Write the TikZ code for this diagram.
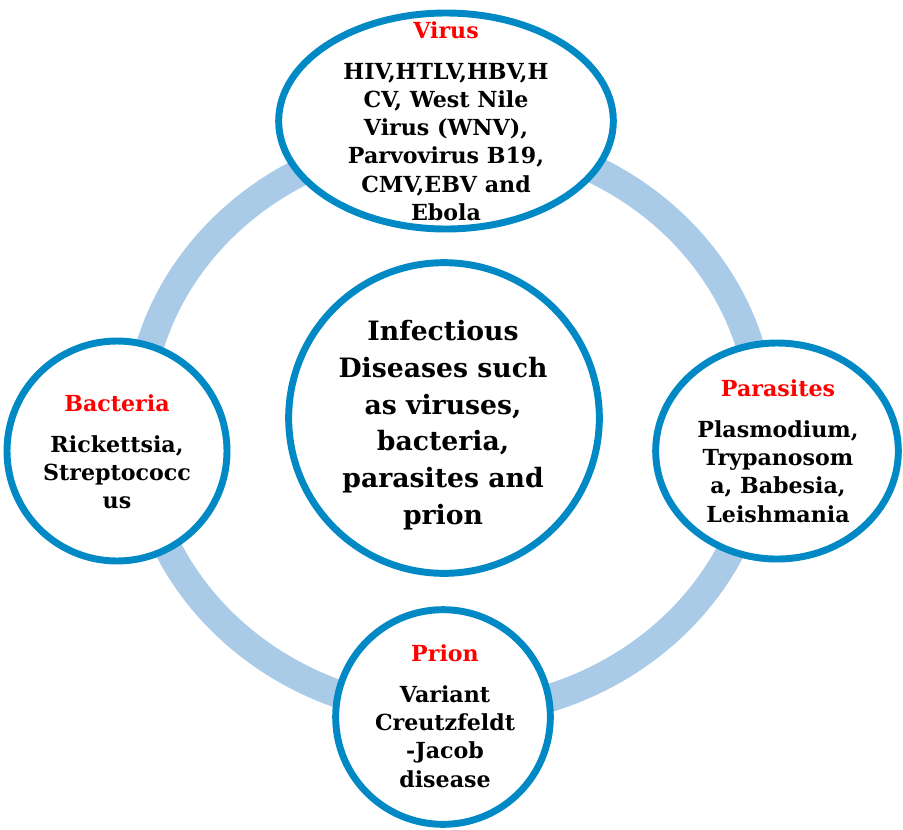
\documentclass[tikz,border=0pt]{standalone}
\usepackage{fontspec}
\setmainfont{DejaVu Serif}
\usetikzlibrary{shapes.geometric}

\definecolor{ringblue}{RGB}{169,203,232}
\definecolor{rimblue}{RGB}{0,137,196}

\tikzset{
  bubble/.style={circle, draw=rimblue, line width=5.2pt, fill=white, inner sep=0pt},
  oval/.style={ellipse, draw=rimblue, line width=5.2pt, fill=white, inner sep=0pt},
  bodytext/.style={align=center, inner sep=0pt, font=\bfseries\fontsize{16.6}{21.2}\selectfont},
  hubtext/.style={align=center, inner sep=0pt, font=\bfseries\fontsize{20}{27.5}\selectfont},
}
\newcommand{\heading}[1]{\textcolor{red}{#1}\\[9.5pt]}

\begin{document}
\begin{tikzpicture}[x=0.75pt,y=0.75pt,yscale=-1,xscale=1]
\useasboundingbox (0,0) rectangle (903,829);

%Shape: Ring
\draw [ringblue, line width=21pt] (450,425) ellipse [x radius=312, y radius=288];

%Shape: Ellipse (virus)
\node [oval, minimum width=251pt, minimum height=162pt] (virus) at (446,121) {};
%Shape: Circle (bacteria)
\node [bubble, minimum size=165pt] (bacteria) at (117,451) {};
%Shape: Ellipse (parasites)
\node [oval, minimum width=182pt, minimum height=162pt] (parasites) at (777,451) {};
%Shape: Circle (prion)
\node [bubble, minimum size=161pt] (prion) at (443,717) {};
%Shape: Circle (hub)
\node [bubble, minimum size=233pt] (hub) at (444,418) {};

% Text Node
\node [bodytext] (virusText) at (446,121) {\heading{Virus}HIV,HTLV,HBV,H\\CV, West Nile\\Virus (WNV),\\Parvovirus B19,\\CMV,EBV and\\Ebola};
% Text Node
\node [bodytext] (bacteriaText) at (117,452) {\heading{Bacteria}Rickettsia,\\Streptococc\\us};
% Text Node
\node [bodytext] (parasitesText) at (778,451) {\heading{Parasites}Plasmodium,\\Trypanosom\\a, Babesia,\\Leishmania};
% Text Node
\node [bodytext] (prionText) at (445,716) {\heading{Prion}Variant\\Creutzfeldt\\-Jacob\\disease};
% Text Node
\node [hubtext] (hubText) at (443,425) {Infectious\\Diseases such\\as viruses,\\bacteria,\\parasites and\\prion};

\end{tikzpicture}
\end{document}
